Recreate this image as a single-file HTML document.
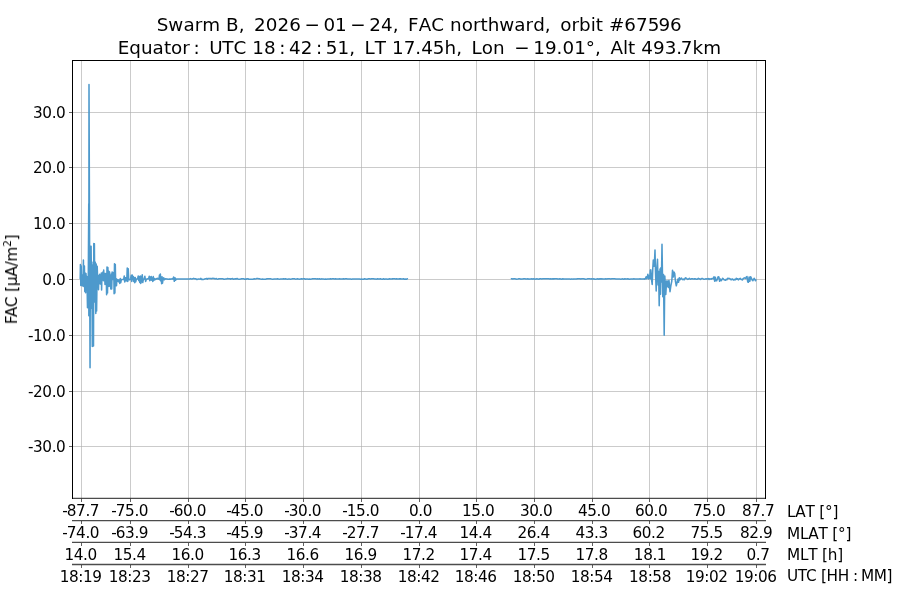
<!DOCTYPE html>
<html lang="en"><head><meta charset="utf-8"><title>Swarm B FAC northward orbit 67596</title>
<style>html,body{margin:0;padding:0;background:#fff;overflow:hidden}svg{display:block}.t{font-family:'DejaVu Sans','Liberation Sans',sans-serif;font-size:15.28px;fill:#000;letter-spacing:-0.42px}.r{font-family:'DejaVu Sans','Liberation Sans',sans-serif;font-size:15.28px;fill:#000;font-kerning:none;letter-spacing:-0.2px}.h{font-family:'DejaVu Sans','Liberation Sans',sans-serif;font-size:18.33px;fill:#000}</style></head><body>
<svg width="900" height="600" viewBox="0 0 900 600">
<rect width="900" height="600" fill="#fff"/>
<path d="M81.5 60.5V498.5M130.5 60.5V498.5M188.5 60.5V498.5M245.5 60.5V498.5M303.5 60.5V498.5M361.5 60.5V498.5M419.5 60.5V498.5M476.5 60.5V498.5M534.5 60.5V498.5M592.5 60.5V498.5M649.5 60.5V498.5M707.5 60.5V498.5M756.5 60.5V498.5" stroke="#b0b0b0" stroke-opacity="0.66" stroke-width="1" fill="none" shape-rendering="crispEdges"/>
<path d="M72.5 112.5H765.5M72.5 167.5H765.5M72.5 223.5H765.5M72.5 279.5H765.5M72.5 335.5H765.5M72.5 391.5H765.5M72.5 446.5H765.5" stroke="#b0b0b0" stroke-opacity="0.66" stroke-width="1" fill="none" shape-rendering="crispEdges"/>
<polyline fill="none" stroke="#4d99cc" stroke-width="1.53" stroke-linejoin="round" points="80.20,279.00 80.40,264.40 80.80,285.60 81.20,266.00 81.50,284.00 81.90,274.80 82.30,286.00 82.70,275.50 83.00,285.00 83.40,260.00 83.80,286.50 84.40,266.00 84.80,291.50 85.20,273.00 85.60,292.80 86.00,273.50 86.40,287.20 86.90,276.50 87.50,307.70 88.30,278.00 88.75,203.50 88.85,315.80 89.00,84.50 90.05,367.70 90.40,246.40 90.75,308.60 91.10,246.20 91.50,290.80 91.90,262.00 92.30,346.50 92.80,265.20 93.50,346.00 93.80,243.60 94.10,296.00 94.40,243.80 94.80,302.00 95.30,262.20 95.80,313.40 96.20,264.00 96.60,311.00 97.20,266.20 97.70,281.20 98.10,275.20 98.50,289.80 98.90,275.50 99.30,282.00 99.70,274.20 100.20,284.00 100.60,276.00 101.00,283.00 101.30,273.00 101.60,290.00 102.00,273.50 102.50,279.80 102.90,272.00 103.40,280.80 103.70,270.00 104.10,280.50 104.50,273.20 105.00,284.40 105.50,273.50 105.90,284.00 106.20,274.00 106.60,294.80 107.00,267.00 107.50,293.00 107.90,267.50 108.30,286.60 108.80,271.20 109.20,286.00 109.60,272.00 110.00,286.60 110.40,276.00 110.80,289.00 111.30,274.00 111.70,289.00 112.10,272.00 112.60,279.50 113.00,272.50 113.50,279.00 113.80,272.50 114.10,293.75 114.50,263.75 114.90,293.00 115.30,264.50 115.70,285.70 116.10,278.50 116.50,285.70 116.90,279.20 117.33,281.47 118.00,279.75 118.67,281.75 119.25,280.03 119.75,283.50 120.25,278.50 120.75,282.61 121.38,279.55 122.12,279.54 122.88,279.45 123.62,279.60 124.25,276.00 124.75,282.00 125.25,277.81 125.75,280.74 126.25,277.55 126.75,280.96 127.25,268.00 127.75,281.50 128.25,268.87 128.75,279.45 129.33,279.75 130.00,279.79 130.67,278.25 131.25,275.37 131.75,281.50 132.25,275.00 132.75,279.47 133.25,276.50 133.75,281.44 134.25,277.60 134.75,282.75 135.25,277.55 135.75,281.68 136.33,279.25 137.00,278.90 137.67,278.75 138.25,276.00 138.75,280.56 139.25,276.84 139.75,282.50 140.25,276.10 140.75,283.50 141.25,276.40 141.75,281.94 142.25,274.75 142.75,282.53 143.38,279.25 144.12,279.05 144.88,276.25 145.62,281.50 146.38,279.25 147.12,278.93 147.88,278.75 148.62,278.75 149.25,276.25 149.75,280.75 150.25,277.00 150.75,279.94 151.25,276.63 151.75,280.19 152.25,277.96 152.75,281.50 153.25,276.50 153.75,280.45 154.33,278.56 154.99,279.75 155.66,279.21 156.32,278.48 156.98,279.06 157.64,278.25 158.31,279.11 158.97,279.12 159.51,274.94 159.94,279.87 160.36,274.00 160.79,281.00 161.21,277.36 161.64,283.70 162.06,276.70 162.49,283.24 163.03,279.50 163.70,277.75 164.37,279.75 165.06,278.96 165.77,278.75 166.49,279.04 167.21,279.09 167.93,279.30 168.64,279.27 169.36,278.96 170.07,279.25 170.79,279.01 171.51,279.10 172.23,278.76 172.94,278.91 173.64,277.00 174.31,281.30 174.99,277.81 175.66,280.16 176.35,278.99 177.05,278.96 177.75,278.97 178.45,279.04 179.15,278.95 179.85,278.98 180.55,279.00 181.25,279.05 181.95,279.06 182.65,279.05 183.35,279.07 184.05,278.99 184.75,278.98 185.45,278.98 186.15,279.05 186.85,279.08 187.55,278.97 188.25,278.95 188.95,278.95 189.65,278.95 190.50,278.63 191.30,278.93 192.10,279.06 192.90,278.67 193.70,278.35 194.50,278.85 195.30,278.79 196.10,279.03 196.90,279.49 197.70,279.18 198.50,278.97 199.30,279.09 200.10,279.16 200.90,278.41 201.70,279.43 202.50,279.29 203.30,279.40 204.10,279.31 204.90,278.82 205.70,278.83 206.50,278.47 207.30,279.11 208.10,278.42 208.90,278.43 209.70,278.60 210.50,278.54 211.30,278.76 212.10,278.41 212.90,278.35 213.70,278.53 214.50,278.47 215.00,278.95 215.50,278.84 216.40,278.57 217.30,279.25 218.20,279.04 219.10,278.67 220.00,278.75 220.90,278.83 221.80,278.84 222.70,278.65 223.60,279.23 224.50,279.34 225.40,278.92 226.30,278.94 227.20,278.62 228.10,278.63 229.00,278.82 229.90,278.76 230.80,279.21 231.70,278.68 232.60,278.57 233.50,279.31 234.40,278.97 235.30,278.67 236.20,278.98 237.10,278.57 238.00,278.97 238.90,279.33 239.80,279.24 240.70,279.11 241.60,278.76 242.50,278.84 243.40,278.68 244.30,279.17 245.20,278.98 246.10,279.17 247.00,278.81 247.90,278.73 248.80,279.20 249.70,279.34 250.60,279.23 251.50,279.19 252.40,279.20 253.30,279.14 254.20,278.73 255.10,278.96 256.00,278.83 256.90,278.57 257.80,278.57 258.70,278.77 259.60,278.76 260.00,278.95 260.50,279.05 261.50,279.18 262.50,278.92 263.50,279.17 264.50,279.19 265.50,279.18 266.50,278.88 267.50,278.81 268.50,278.81 269.50,278.80 270.50,278.80 271.50,279.01 272.50,279.15 273.50,279.12 274.50,278.94 275.50,279.03 276.50,279.10 277.50,278.74 278.50,279.03 279.50,279.15 280.50,279.09 281.50,279.08 282.50,278.94 283.50,278.79 284.50,279.09 285.50,278.87 286.50,279.10 287.50,279.19 288.50,278.90 289.50,278.90 290.50,279.17 291.50,279.06 292.50,278.79 293.50,278.76 294.50,278.78 295.50,279.15 296.50,279.10 297.50,278.77 298.50,279.11 299.50,279.19 300.50,279.03 301.50,278.88 302.50,278.97 303.50,278.77 304.50,278.71 305.50,279.19 306.50,279.02 307.50,278.96 308.50,279.17 309.50,278.92 310.50,279.14 311.50,279.11 312.50,278.81 313.50,278.83 314.50,278.85 315.50,278.82 316.50,278.99 317.50,278.83 318.50,278.91 319.50,278.77 320.50,279.16 321.50,278.88 322.50,278.93 323.50,278.99 324.50,279.15 325.50,278.91 326.50,279.16 327.50,278.95 328.50,278.97 329.50,278.96 330.50,278.71 331.50,278.92 332.50,278.79 333.50,278.70 334.50,279.10 335.50,278.79 336.50,278.94 337.50,279.06 338.50,278.98 339.50,278.86 340.50,278.96 341.50,278.98 342.50,279.09 343.50,278.75 344.50,278.98 345.50,278.82 346.50,278.84 347.50,279.09 348.50,278.95 349.50,278.98 350.50,279.08 351.50,279.16 352.50,278.92 353.50,279.01 354.50,278.95 355.50,278.96 356.50,279.05 357.50,278.93 358.50,278.97 359.50,278.94 360.50,279.17 361.50,279.05 362.50,279.14 363.50,279.17 364.50,278.83 365.50,278.98 366.50,279.17 367.50,279.12 368.50,278.77 369.50,278.76 370.50,278.92 371.50,278.74 372.50,278.82 373.50,278.74 374.50,279.03 375.50,279.09 376.50,279.15 377.50,278.78 378.50,279.06 379.50,279.03 380.50,278.77 381.50,279.14 382.50,279.18 383.50,278.81 384.50,279.18 385.50,278.90 386.50,278.94 387.50,279.19 388.50,279.12 389.50,278.78 390.50,278.92 391.50,278.96 392.50,278.87 393.50,278.80 394.50,278.86 395.50,279.06 396.50,278.71 397.50,278.98 398.50,278.92 399.50,278.71 400.50,278.87 401.50,279.01 402.50,278.96 403.50,278.73 404.50,279.19 405.50,279.09 406.50,279.19 407.50,278.75 407.80,278.95"/>
<polyline fill="none" stroke="#4d99cc" stroke-width="1.53" stroke-linejoin="round" points="510.80,278.83 511.80,278.72 512.80,279.09 513.80,278.84 514.80,278.76 515.80,278.91 516.80,279.16 517.80,279.11 518.80,278.83 519.80,278.77 520.80,279.16 521.80,278.99 522.80,279.05 523.80,278.74 524.80,278.73 525.80,279.04 526.80,278.91 527.80,278.74 528.80,279.17 529.80,279.02 530.80,279.10 531.80,278.74 532.80,279.13 533.80,278.73 534.80,279.13 535.80,278.93 536.80,278.87 537.80,278.98 538.80,279.16 539.80,278.83 540.80,278.76 541.80,278.96 542.80,278.82 543.80,278.75 544.80,278.78 545.80,278.73 546.80,278.80 547.80,278.86 548.80,278.85 549.80,279.08 550.80,278.84 551.80,278.95 552.80,278.79 553.80,278.87 554.80,278.71 555.80,278.83 556.80,278.71 557.80,279.07 558.80,278.98 559.80,278.79 560.80,278.94 561.80,279.17 562.80,278.75 563.80,279.11 564.80,278.92 565.80,278.95 566.80,279.12 567.80,278.90 568.80,278.95 569.80,279.04 570.80,279.19 571.80,278.87 572.80,279.12 573.80,279.05 574.80,279.02 575.80,278.90 576.80,278.87 577.80,278.73 578.80,278.76 579.80,278.74 580.80,279.07 581.80,278.83 582.80,278.78 583.80,278.74 584.80,279.12 585.80,279.14 586.80,279.04 587.80,278.84 588.80,278.82 589.80,278.85 590.80,278.93 591.80,278.78 592.80,278.92 593.80,278.83 594.80,279.18 595.80,279.19 596.80,278.97 597.80,278.82 598.80,279.18 599.80,278.85 600.80,278.88 601.80,278.70 602.80,278.89 603.80,278.94 604.80,278.95 605.80,278.80 606.80,278.95 607.80,278.70 608.80,278.83 609.80,278.74 610.80,278.90 611.80,278.72 612.80,278.71 613.80,278.85 614.80,278.82 615.80,278.99 616.80,278.96 617.80,279.08 618.80,279.03 619.80,279.06 620.80,279.14 621.80,278.89 622.80,278.86 623.80,279.19 624.80,278.77 625.80,279.06 626.80,279.02 627.80,278.72 628.80,279.12 629.80,279.15 630.80,279.01 631.80,279.07 632.80,279.11 633.80,278.77 634.80,278.96 635.80,278.95 636.00,278.95 636.36,279.05 637.09,279.00 637.82,278.97 638.55,278.98 639.27,278.97 640.00,278.85 640.73,278.93 641.45,278.93 642.18,278.91 642.91,278.91 643.64,278.93 644.25,278.75 644.75,279.25 645.38,278.75 646.12,276.75 646.75,278.75 647.25,277.75 647.88,274.25 648.62,279.00 649.25,275.75 649.75,278.25 650.31,270.00 650.94,279.00 651.30,279.00 650.80,269.70 651.50,279.50 652.20,284.50 652.80,268.00 653.30,260.00 653.90,266.30 654.40,264.00 655.00,250.00 655.50,272.00 656.20,291.00 656.90,268.00 657.50,259.20 658.10,285.00 658.60,271.50 659.20,305.80 660.00,269.00 660.50,294.30 661.00,267.50 661.40,282.00 662.00,244.20 662.80,296.70 663.50,274.50 664.20,335.30 664.80,276.00 665.80,294.50 666.60,281.00 667.20,286.50 667.80,281.00 668.40,287.50 669.00,280.50 670.00,291.70 671.00,285.00 671.80,281.00 672.50,270.20 673.30,277.00 673.90,272.00 674.70,273.30 675.40,281.00 676.30,285.80 677.20,282.00 678.00,279.00 678.50,282.30 679.33,277.75 680.00,279.85 680.67,279.04 681.38,278.05 682.12,278.94 682.88,279.65 683.62,279.09 684.33,279.75 685.00,278.39 685.67,277.75 686.38,278.35 687.12,278.98 687.88,279.45 688.62,279.04 689.38,278.35 690.12,278.96 690.88,279.25 691.62,278.71 692.33,278.76 693.00,279.01 693.67,278.98 694.33,278.75 695.00,279.12 695.67,278.80 696.33,279.17 697.00,279.25 697.67,278.96 698.36,278.35 699.07,278.85 699.79,279.02 700.50,279.45 701.21,278.65 701.93,278.48 702.64,278.53 703.36,278.97 704.07,279.25 704.79,279.14 705.50,278.84 706.21,278.94 706.93,278.75 707.64,278.92 708.36,278.58 709.07,279.45 709.79,278.84 710.50,278.91 711.21,279.13 711.93,278.45 712.64,278.60 713.33,278.77 714.00,276.75 714.67,281.25 715.33,277.25 716.00,280.75 716.67,280.84 717.38,278.92 718.12,276.75 718.88,276.93 719.62,281.25 720.38,279.06 721.12,280.75 721.88,279.79 722.62,278.25 723.36,278.89 724.07,279.80 724.79,280.05 725.50,280.15 726.21,279.28 726.93,279.80 727.64,278.25 728.36,278.37 729.07,278.45 729.79,278.45 730.50,279.24 731.21,279.85 731.93,279.08 732.64,278.96 733.36,280.05 734.07,279.89 734.79,279.39 735.50,279.79 736.21,278.25 736.93,279.18 737.64,278.76 738.33,279.85 739.00,279.19 739.67,278.70 740.33,278.35 741.00,279.44 741.67,279.43 742.33,280.05 743.00,278.88 743.67,278.24 744.33,277.75 745.00,278.27 745.67,278.38 746.33,277.00 747.00,276.55 747.67,281.75 748.38,282.25 749.12,276.95 749.88,281.25 750.62,276.75 751.38,278.05 752.12,279.92 752.88,280.75 753.62,279.17 754.31,278.25 754.94,279.91 755.56,280.75 756.19,279.46"/>
<path d="M72.5 498.5V60.5H765.5V498.5" fill="none" stroke="#000" stroke-width="1" shape-rendering="crispEdges"/>
<path d="M72.0 498.4H766.0M72.0 520.6H766.0M72.0 542.4H766.0M72.0 564.5H766.0" fill="none" stroke="#000" stroke-opacity="0.7" stroke-width="1.35"/>
<path d="M81.5 498.5v3.5M81.5 520.5v3.5M81.5 542.5v3.5M81.5 564.5v3.5M130.5 498.5v3.5M130.5 520.5v3.5M130.5 542.5v3.5M130.5 564.5v3.5M188.5 498.5v3.5M188.5 520.5v3.5M188.5 542.5v3.5M188.5 564.5v3.5M245.5 498.5v3.5M245.5 520.5v3.5M245.5 542.5v3.5M245.5 564.5v3.5M303.5 498.5v3.5M303.5 520.5v3.5M303.5 542.5v3.5M303.5 564.5v3.5M361.5 498.5v3.5M361.5 520.5v3.5M361.5 542.5v3.5M361.5 564.5v3.5M419.5 498.5v3.5M419.5 520.5v3.5M419.5 542.5v3.5M419.5 564.5v3.5M476.5 498.5v3.5M476.5 520.5v3.5M476.5 542.5v3.5M476.5 564.5v3.5M534.5 498.5v3.5M534.5 520.5v3.5M534.5 542.5v3.5M534.5 564.5v3.5M592.5 498.5v3.5M592.5 520.5v3.5M592.5 542.5v3.5M592.5 564.5v3.5M649.5 498.5v3.5M649.5 520.5v3.5M649.5 542.5v3.5M649.5 564.5v3.5M707.5 498.5v3.5M707.5 520.5v3.5M707.5 542.5v3.5M707.5 564.5v3.5M756.5 498.5v3.5M756.5 520.5v3.5M756.5 542.5v3.5M756.5 564.5v3.5M72.5 112.5h-3.5M72.5 167.5h-3.5M72.5 223.5h-3.5M72.5 279.5h-3.5M72.5 335.5h-3.5M72.5 391.5h-3.5M72.5 446.5h-3.5" stroke="#000" stroke-opacity="0.62" stroke-width="1" fill="none" shape-rendering="crispEdges"/>
<g opacity="0.999">
<text class="t" x="80.70" y="516" dx="0 -0.5" text-anchor="middle">-87.7</text>
<text class="t" x="129.70" y="516" dx="0 -0.5" text-anchor="middle">-75.0</text>
<text class="t" x="187.70" y="516" dx="0 -0.5" text-anchor="middle">-60.0</text>
<text class="t" x="244.70" y="516" dx="0 -0.5" text-anchor="middle">-45.0</text>
<text class="t" x="302.70" y="516" dx="0 -0.5" text-anchor="middle">-30.0</text>
<text class="t" x="360.70" y="516" dx="0 -0.5" text-anchor="middle">-15.0</text>
<text class="t" x="420.45" y="516" text-anchor="middle">0.0</text>
<text class="t" x="478.10" y="516" text-anchor="middle">15.0</text>
<text class="t" x="536.10" y="516" text-anchor="middle">30.0</text>
<text class="t" x="594.10" y="516" text-anchor="middle">45.0</text>
<text class="t" x="651.10" y="516" text-anchor="middle">60.0</text>
<text class="t" x="709.10" y="516" text-anchor="middle">75.0</text>
<text class="t" x="758.10" y="516" text-anchor="middle">87.7</text>
<text class="t" x="80.70" y="538" dx="0 -0.5" text-anchor="middle">-74.0</text>
<text class="t" x="129.70" y="538" dx="0 -0.5" text-anchor="middle">-63.9</text>
<text class="t" x="187.70" y="538" dx="0 -0.5" text-anchor="middle">-54.3</text>
<text class="t" x="244.70" y="538" dx="0 -0.5" text-anchor="middle">-45.9</text>
<text class="t" x="302.70" y="538" dx="0 -0.5" text-anchor="middle">-37.4</text>
<text class="t" x="360.70" y="538" dx="0 -0.5" text-anchor="middle">-27.7</text>
<text class="t" x="418.70" y="538" dx="0 -0.5" text-anchor="middle">-17.4</text>
<text class="t" x="475.70" y="538" text-anchor="middle">14.4</text>
<text class="t" x="533.70" y="538" text-anchor="middle">26.4</text>
<text class="t" x="591.70" y="538" text-anchor="middle">43.3</text>
<text class="t" x="648.70" y="538" text-anchor="middle">60.2</text>
<text class="t" x="706.70" y="538" text-anchor="middle">75.5</text>
<text class="t" x="756.20" y="538" text-anchor="middle">82.9</text>
<text class="t" x="80.70" y="559.5" text-anchor="middle">14.0</text>
<text class="t" x="129.70" y="559.5" text-anchor="middle">15.4</text>
<text class="t" x="187.70" y="559.5" text-anchor="middle">16.0</text>
<text class="t" x="244.70" y="559.5" text-anchor="middle">16.3</text>
<text class="t" x="302.70" y="559.5" text-anchor="middle">16.6</text>
<text class="t" x="360.70" y="559.5" text-anchor="middle">16.9</text>
<text class="t" x="418.70" y="559.5" text-anchor="middle">17.2</text>
<text class="t" x="475.70" y="559.5" text-anchor="middle">17.4</text>
<text class="t" x="533.70" y="559.5" text-anchor="middle">17.5</text>
<text class="t" x="591.70" y="559.5" text-anchor="middle">17.8</text>
<text class="t" x="650.00" y="559.5" text-anchor="middle">18.1</text>
<text class="t" x="706.70" y="559.5" text-anchor="middle">19.2</text>
<text class="t" x="758.00" y="559.5" text-anchor="middle">0.7</text>
<text class="t" x="80.70" y="582" text-anchor="middle">18:19</text>
<text class="t" x="129.70" y="582" text-anchor="middle">18:23</text>
<text class="t" x="187.70" y="582" text-anchor="middle">18:27</text>
<text class="t" x="244.70" y="582" text-anchor="middle">18:31</text>
<text class="t" x="302.70" y="582" text-anchor="middle">18:34</text>
<text class="t" x="360.70" y="582" text-anchor="middle">18:38</text>
<text class="t" x="418.70" y="582" text-anchor="middle">18:42</text>
<text class="t" x="475.70" y="582" text-anchor="middle">18:46</text>
<text class="t" x="533.70" y="582" text-anchor="middle">18:50</text>
<text class="t" x="591.70" y="582" text-anchor="middle">18:54</text>
<text class="t" x="650.00" y="582" text-anchor="middle">18:58</text>
<text class="t" x="706.70" y="582" text-anchor="middle">19:02</text>
<text class="t" x="755.70" y="582" text-anchor="middle">19:06</text>
<text class="r" x="787" y="516.7">LAT [°]</text>
<text class="r" x="787" y="539">MLAT [°]</text>
<text class="r" x="787" y="559.7">MLT [h]</text>
<text class="t" y="581.2"><tspan x="787" style="letter-spacing:-0.3px">UTC [HH</tspan> <tspan x="852.9">:</tspan> <tspan x="861">MM]</tspan></text>
<text class="t" x="65.4" y="117.8" text-anchor="end">30.0</text>
<text class="t" x="65.4" y="172.8" text-anchor="end">20.0</text>
<text class="t" x="65.4" y="228.8" text-anchor="end">10.0</text>
<text class="t" x="65.4" y="284.8" text-anchor="end">0.0</text>
<text class="t" x="65.4" y="340.8" text-anchor="end">-10.0</text>
<text class="t" x="65.4" y="396.8" text-anchor="end">-20.0</text>
<text class="t" x="65.4" y="451.8" text-anchor="end">-30.0</text>
<text class="t" style="letter-spacing:-0.2px" transform="translate(17,279.4) rotate(-90)" text-anchor="middle">FAC [µA/m<tspan dy="-6" font-size="10.7">2</tspan><tspan dy="6">]</tspan></text>
<text class="h" x="156.70 168.36 183.39 194.65 202.21 220.07 226.07 238.68 248.07 254.07 265.76 277.45 289.14 304.41 323.38 335.08 350.35 369.32 381.01 392.70 402.09 408.09 418.66 431.23 444.03 450.03 461.67 472.91 480.47 487.67 499.32 514.35 525.61 533.16 544.83 554.21 560.21 571.46 579.01 590.67 595.78 602.95 608.95 624.35 636.04 647.73 658.42 670.11" y="30.8">Swarm B, 2026−01−24, FAC northward, orbit #67596</text>
<text class="h" x="117.70 129.31 140.97 152.62 163.88 171.08 182.33 193.46 203.20 209.20 222.27 233.50 246.29 252.29 263.98 279.25 289.03 300.72 315.99 325.76 337.45 349.14 358.53 364.53 374.76 385.95 391.95 403.64 415.34 421.18 432.87 444.56 456.20 465.59 471.59 481.83 493.07 508.26 514.26 533.24 544.93 556.62 562.46 574.15 585.84 595.03 604.42 610.42 622.99 628.09 635.26 641.26 652.95 664.64 676.34 680.80 692.49 703.13" y="53.6">Equator: UTC 18:42:51, LT 17.45h, Lon −19.01°, Alt 493.7km</text>
</g>
</svg></body></html>
